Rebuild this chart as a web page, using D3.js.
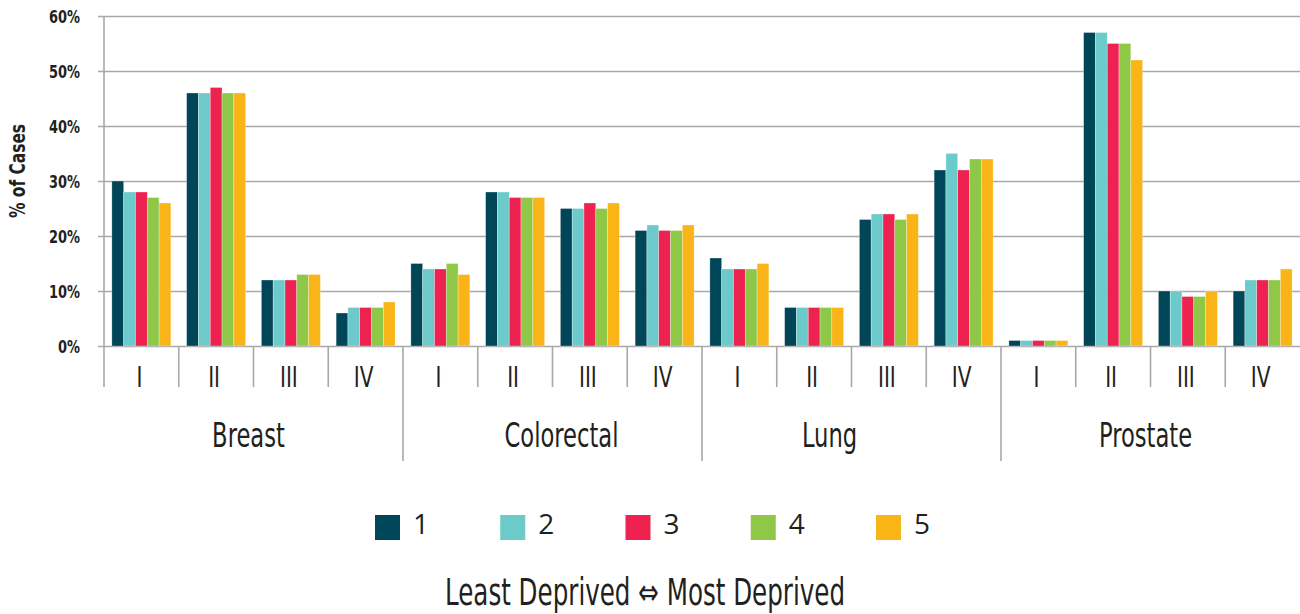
<!DOCTYPE html>
<html>
<head>
<meta charset="utf-8">
<script src="https://cdn.jsdelivr.net/npm/d3@7"></script>
<style>
  body { margin: 0; background: #fff; }
  svg text { fill: #231f20; }
  .narrow { font-family: 'Liberation Sans Narrow', 'DejaVu Sans Condensed', 'Arial Narrow', sans-serif; }
</style>
</head>
<body>
<svg id="chart" width="1300" height="614"></svg>
<script>
// data (% of cases)
const cancers = ['Breast', 'Colorectal', 'Lung', 'Prostate'];
const stages = ['I', 'II', 'III', 'IV'];
const quintiles = ['1', '2', '3', '4', '5'];
const yTicks = [0, 10, 20, 30, 40, 50, 60];

// one array per deprivation quintile, 16 values = cancer x stage
const q1 = [30, 46, 12, 6, 15, 28, 25, 21, 16, 7, 23, 32, 1, 57, 10, 10];
const q2 = [28, 46, 12, 7, 14, 28, 25, 22, 14, 7, 24, 35, 1, 57, 10, 12];
const q3 = [28, 47, 12, 7, 14, 27, 26, 21, 14, 7, 24, 32, 1, 55, 9, 12];
const q4 = [27, 46, 13, 7, 15, 27, 25, 21, 14, 7, 23, 34, 1, 55, 9, 12];
const q5 = [26, 46, 13, 8, 13, 27, 26, 22, 15, 7, 24, 34, 1, 52, 10, 14];

const colours = ['#004658', '#6ccacb', '#ee2250', '#8fc846', '#f9b518'];

const svg = d3.select('#chart');
const margin = { left: 104, right: 0, top: 16, bottom: 268 };
const width = +svg.attr('width');
const height = +svg.attr('height');
const gridColour = '#a8a8a8';
// the original's category labels sit a little off-centre
const labelNudge = { Breast: -5, Colorectal: 9, Lung: -22, Prostate: -5 };

// squeeze text horizontally (no real condensed font available)
const condense = (sel, factor) => sel.each(function() {
  const len = this.getComputedTextLength();
  d3.select(this).attr('textLength', len * factor).attr('lengthAdjust', 'spacingAndGlyphs');
});

// build rows: each stage slot with its 5 values
const series = [q1, q2, q3, q4, q5];
const slots = [];
cancers.forEach((c, ci) => stages.forEach((s, si) => {
  const i = ci * stages.length + si;
  slots.push({ key: c + '-' + s, cancer: c, stage: s, values: series.map((q, k) => ({ q: quintiles[k], v: q[i] })) });
}));

// scales
const xScale = d3.scaleBand()
  .domain(slots.map(d => d.key))
  .range([margin.left, width - margin.right]);
const bw = xScale.bandwidth();
const groupW = 59;
const xInner = d3.scaleBand()
  .domain(quintiles)
  .range([(bw - groupW) / 2, (bw + groupW) / 2]);
const yScale = d3.scaleLinear()
  .domain([0, 60])
  .range([height - margin.bottom, margin.top]);
const colourScale = d3.scaleOrdinal().domain(quintiles).range(colours);

const y0 = yScale(0);

// gridlines + y axis
const yAxis = d3.axisLeft(yScale)
  .tickValues(yTicks)
  .tickFormat(d => d + '%')
  .tickSize(-(width - margin.left - margin.right))
  .tickSizeOuter(0);

const yAxisG = svg.append('g')
  .attr('transform', `translate(${margin.left},0)`)
  .call(yAxis);
yAxisG.select('.domain').remove();
yAxisG.selectAll('.tick line')
  .attr('x1', -6)
  .attr('stroke', gridColour)
  .attr('stroke-width', 1.6);
yAxisG.selectAll('.tick text')
  .attr('class', 'narrow')
  .attr('x', -24)
  .attr('dy', '0.36em')
  .style('font-size', '18px')
  .style('font-weight', 'bold')
  .call(condense, 0.8);

// y axis line, running down through the stage labels
svg.append('line')
  .attr('x1', margin.left).attr('x2', margin.left)
  .attr('y1', margin.top).attr('y2', 387)
  .attr('stroke', gridColour).attr('stroke-width', 1.6);

// y title
svg.append('text')
  .attr('class', 'narrow')
  .attr('transform', `translate(25,171) rotate(-90)`)
  .attr('text-anchor', 'middle')
  .style('font-size', '22px')
  .style('font-weight', 'bold')
  .text('% of Cases')
  .call(condense, 0.78);

// bars
const groups = svg.append('g').selectAll('g')
  .data(slots)
  .join('g')
  .attr('transform', d => `translate(${xScale(d.key)},0)`);

groups.selectAll('rect')
  .data(d => d.values)
  .join('rect')
  .attr('x', d => xInner(d.q))
  .attr('y', d => yScale(d.v))
  .attr('width', xInner.bandwidth())
  .attr('height', d => y0 - yScale(d.v))
  .attr('fill', d => colourScale(d.q))
  .attr('stroke', '#fff')
  .attr('stroke-opacity', 0.5)
  .attr('stroke-width', 0.6);

// stage separators below the axis
const sepG = svg.append('g');
slots.forEach((d, i) => {
  if (i === 0) return;
  const x = xScale(d.key);
  const long = d.stage === stages[0];
  sepG.append('line')
    .attr('x1', x).attr('x2', x)
    .attr('y1', y0).attr('y2', long ? 461 : 387)
    .attr('stroke', gridColour).attr('stroke-width', 1.6);
});

// stage labels
svg.append('g').selectAll('text')
  .data(slots)
  .join('text')
  .attr('class', 'narrow')
  .attr('x', d => xScale(d.key) + bw / 2 - 2)
  .attr('y', 387)
  .attr('text-anchor', 'middle')
  .style('font-size', '28px')
  .text(d => d.stage)
  .call(condense, 0.8);

// cancer labels
svg.append('g').selectAll('text')
  .data(cancers)
  .join('text')
  .attr('class', 'narrow')
  .attr('x', c => {
    const first = xScale(c + '-' + stages[0]);
    const last = xScale(c + '-' + stages[stages.length - 1]) + bw;
    return (first + last) / 2 + labelNudge[c];
  })
  .attr('y', 447)
  .attr('text-anchor', 'middle')
  .style('font-size', '34px')
  .text(c => c)
  .call(condense, 0.74);

// legend
const legendX = d3.scalePoint()
  .domain(quintiles)
  .range([375, 876]);
const legend = svg.append('g').selectAll('g')
  .data(quintiles)
  .join('g')
  .attr('transform', q => `translate(${legendX(q)},515)`);
legend.append('rect')
  .attr('width', 25).attr('height', 25)
  .attr('fill', q => colourScale(q));
legend.append('text')
  .attr('x', 38).attr('y', 19)
  .style('font-family', "'Open Sans', 'Noto Sans', sans-serif")
  .style('font-size', '28px')
  .text(q => q);

// deprivation caption
svg.append('text')
  .attr('class', 'narrow')
  .attr('x', 445)
  .attr('y', 605)
  .style('font-size', '37px')
  .text('Least Deprived \u21D4 Most Deprived')
  .attr('textLength', 400)
  .attr('lengthAdjust', 'spacingAndGlyphs');
</script>
</body>
</html>
